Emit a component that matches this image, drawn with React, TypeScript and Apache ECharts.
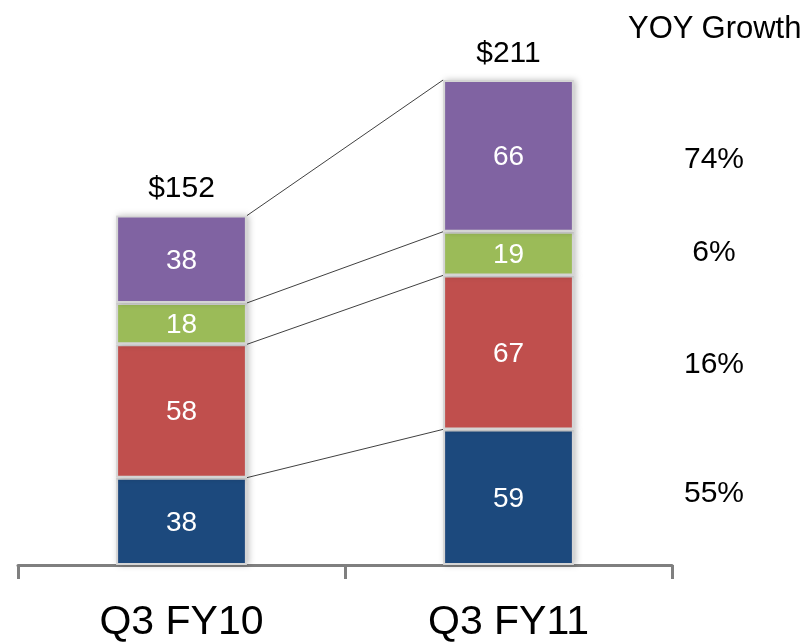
import React, { useEffect, useRef } from "react";
import * as echarts from "echarts";

const categories = ["Q3 FY10", "Q3 FY11"];
const seriesBlue = [38, 59];
const seriesRed = [58, 67];
const seriesGreen = [18, 19];
const seriesPurple = [38, 66];
const totals = ["$152", "$211"];
const growthLabels = ["74%", "6%", "16%", "55%"];
const growthTitle = "YOY Growth";

const colors = ["#1F497D", "#C0504D", "#9BBB59", "#8064A2"];
const FONT = "Liberation Sans, Arial, sans-serif";

export default function App() {
  const ref = useRef<HTMLDivElement>(null);
  useEffect(() => {
    if (!ref.current) return;
    const chart = echarts.init(ref.current, null, { renderer: "svg" });
    const stacks = [seriesBlue, seriesRed, seriesGreen, seriesPurple];
    const connectors = stacks.map((_, si) => {
      const c0 = stacks.slice(0, si + 1).reduce((a, s) => a + s[0], 0);
      const c1 = stacks.slice(0, si + 1).reduce((a, s) => a + s[1], 0);
      return [c0, c1];
    });
    const barSeries = stacks.map((data, i) => ({
      type: "bar",
      stack: "total",
      data,
      barWidth: "40%",
      itemStyle: {
        color: colors[i],
        borderColor: "#d4d4d4",
        borderWidth: 2,
        shadowBlur: 6,
        shadowColor: "rgba(0,0,0,0.25)",
        shadowOffsetX: 2,
        shadowOffsetY: 0,
      },
      label: {
        show: true,
        position: "inside",
        color: "#ffffff",
        fontSize: 28,
        fontFamily: FONT,
      },
    }));
    const option: any = {
      animation: false,
      grid: { left: 18, right: 134, top: 80, bottom: 78 },
      xAxis: {
        type: "category",
        data: categories,
        axisLine: { lineStyle: { color: "#7f7f7f", width: 3 } },
        axisTick: { show: true, length: 14, lineStyle: { color: "#7f7f7f", width: 3 } },
        axisLabel: {
          fontSize: 41,
          lineHeight: 40,
          color: "#000",
          fontFamily: FONT,
          margin: 35,
        },
      },
      yAxis: {
        type: "value",
        min: 0,
        max: 211,
        show: false,
        splitLine: { show: false },
      },
      series: [
        ...barSeries,
        {
          type: "bar",
          stack: "total",
          data: [0, 0],
          barWidth: "40%",
          itemStyle: { color: "transparent", borderWidth: 0 },
          label: {
            show: true,
            position: "top",
            distance: 14,
            color: "#000",
            fontSize: 30,
            fontFamily: FONT,
            formatter: (p: any) => totals[p.dataIndex],
          },
        },
        {
          type: "custom",
          data: connectors,
          silent: true,
          renderItem: (params: any, api: any) => {
            const v0 = api.value(0);
            const v1 = api.value(1);
            const p0 = api.coord([0, v0]);
            const p1 = api.coord([1, v1]);
            const hw = (api.size([1, 0])[0] * 0.4) / 2;
            return {
              type: "line",
              shape: { x1: p0[0] + hw, y1: p0[1], x2: p1[0] - hw, y2: p1[1] },
              style: { stroke: "#404040", lineWidth: 1 },
            };
          },
          encode: { x: -1, y: [0, 1] },
        },
      ],
      graphic: [
        {
          type: "text",
          right: 4,
          top: 12,
          style: { text: growthTitle, fontSize: 31, fill: "#000", fontFamily: FONT },
        },
        ...growthLabels.map((t, i) => ({
          type: "text",
          x: 714,
          y: [157, 250, 362, 491][i],
          style: {
            text: t,
            fontSize: 30,
            fill: "#000",
            fontFamily: FONT,
            align: "center",
            verticalAlign: "middle",
          },
        })),
      ],
    };
    chart.setOption(option);
    return () => chart.dispose();
  }, []);
  return (
    <div
      ref={ref}
      style={{ position: "fixed", left: 0, top: 0, width: 806, height: 643 }}
    />
  );
}
